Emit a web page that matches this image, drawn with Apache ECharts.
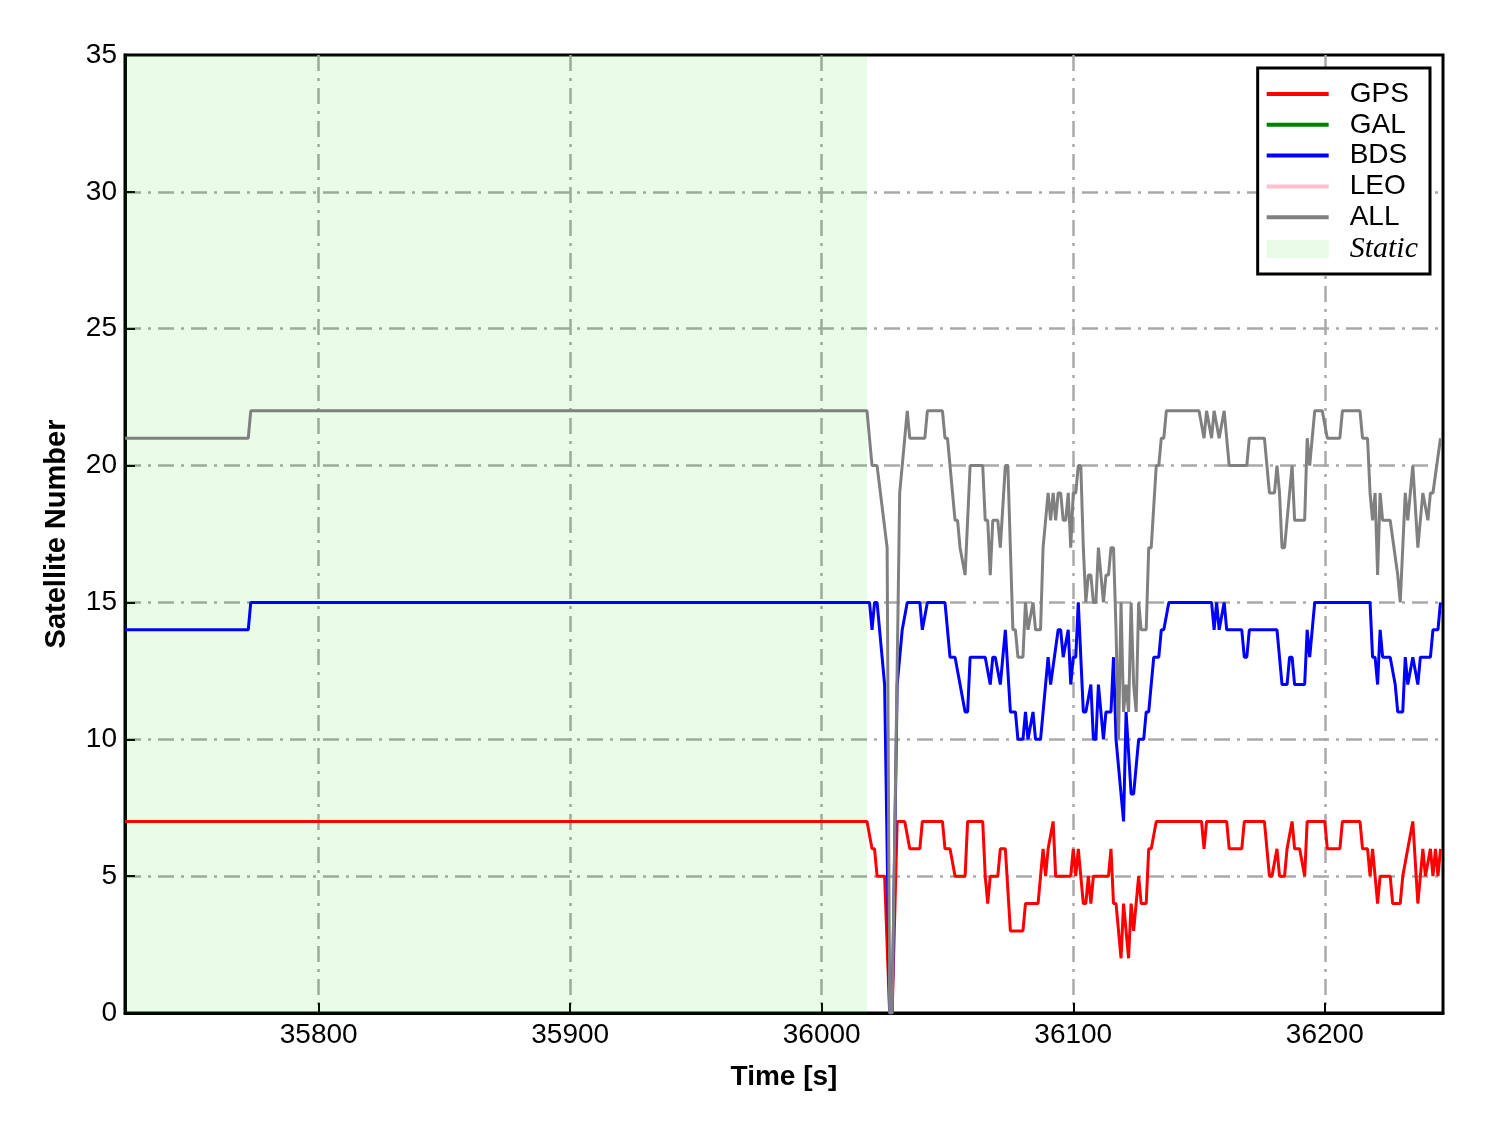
<!DOCTYPE html>
<html>
<head>
<meta charset="utf-8">
<script src="https://cdn.jsdelivr.net/npm/echarts@6/dist/echarts.min.js"></script>
<style>
  html, body { margin: 0; padding: 0; background: #fff; }
  #chart { width: 1488px; height: 1133px; }
</style>
</head>
<body>
<div id="chart"></div>
<script>
// time range of the plot [s]
var timeRange = [35723, 36247];
// static period (shaded)
var staticRange = [35723, 36018];
var yTicks = [0, 5, 10, 15, 20, 25, 30, 35];

// [time, satellite count] samples
var gpsData = [
  [35723,7],[36018,7],[36020,6],[36021,6],[36022,5],[36025,5],[36027,0],[36028,0],[36030,7],[36033,7],
  [36035,6],[36039,6],[36040,7],[36048,7],[36049,6],[36051,6],[36053,5],[36057,5],[36058,7],[36064,7],
  [36065,5],[36066,4],[36067,5],[36070,5],[36071,6],[36073,6],[36075,3],[36080,3],[36081,4],[36086,4],
  [36087,5],[36088,6],[36089,5],[36090,6],[36092,7],[36093,5],[36099,5],[36100,6],[36101,5],[36102,6],
  [36104,4],[36105,4],[36106,5],[36107,4],[36108,5],[36114,5],[36115,6],[36116,4],[36117,4],[36119,2],
  [36120,4],[36122,2],[36123,4],[36124,3],[36126,5],[36127,4],[36129,4],[36130,6],[36131,6],[36133,7],
  [36151,7],[36152,6],[36153,7],[36161,7],[36162,6],[36167,6],[36168,7],[36176,7],[36177,6],[36178,5],
  [36179,5],[36181,6],[36182,5],[36184,5],[36185,6],[36187,7],[36188,6],[36190,6],[36192,5],[36193,7],
  [36200,7],[36201,6],[36206,6],[36207,7],[36214,7],[36215,6],[36217,6],[36218,5],[36219,6],[36221,4],
  [36222,5],[36226,5],[36227,4],[36230,4],[36231,5],[36233,6],[36235,7],[36237,4],[36239,6],[36240,5],
  [36242,6],[36243,5],[36244,6],[36245,5],[36246,6]
];
var galData = [];
var bdsData = [
  [35723,14],[35772,14],[35773,15],[36019,15],[36020,14],[36021,15],[36022,15],[36024,13],[36025,12],[36027,0],
  [36028,0],[36030,12],[36032,14],[36034,15],[36039,15],[36040,14],[36042,15],[36049,15],[36051,13],[36053,13],
  [36055,12],[36057,11],[36058,11],[36059,13],[36065,13],[36067,12],[36068,13],[36069,13],[36071,12],[36072,13],
  [36073,14],[36075,11],[36077,11],[36078,10],[36080,10],[36081,11],[36082,10],[36084,11],[36085,10],[36087,10],
  [36090,13],[36091,12],[36094,14],[36095,14],[36096,13],[36098,14],[36099,12],[36100,13],[36101,13],[36102,15],
  [36104,11],[36105,11],[36107,12],[36108,10],[36109,10],[36110,12],[36112,10],[36113,11],[36115,11],[36116,13],
  [36117,10],[36120,7],[36121,11],[36123,8],[36124,8],[36126,10],[36128,10],[36129,11],[36130,11],[36132,13],
  [36134,13],[36135,14],[36136,14],[36138,15],[36155,15],[36156,14],[36157,15],[36158,14],[36160,15],[36161,14],
  [36167,14],[36168,13],[36169,13],[36170,14],[36181,14],[36183,12],[36185,12],[36186,13],[36187,13],[36188,12],
  [36192,12],[36193,14],[36194,13],[36196,15],[36218,15],[36219,13],[36220,13],[36221,12],[36222,14],[36223,13],
  [36226,13],[36228,12],[36229,11],[36231,11],[36232,13],[36233,12],[36235,13],[36237,12],[36238,13],[36242,13],
  [36243,14],[36245,14],[36246,15]
];
var leoData = [];
var allData = [
  [35723,21],[35772,21],[35773,22],[36018,22],[36020,20],[36022,20],[36026,17],[36027,0],[36028,0],[36031,19],
  [36034,22],[36035,21],[36041,21],[36042,22],[36048,22],[36049,21],[36050,21],[36053,18],[36054,18],[36055,17],
  [36057,16],[36059,20],[36064,20],[36065,18],[36066,18],[36067,16],[36068,18],[36070,18],[36071,17],[36073,20],
  [36074,20],[36076,14],[36077,14],[36078,13],[36080,13],[36081,15],[36082,14],[36084,15],[36085,14],[36087,14],
  [36088,17],[36089,18],[36090,19],[36091,18],[36092,19],[36093,18],[36094,19],[36095,19],[36096,18],[36097,18],
  [36098,19],[36099,17],[36100,19],[36101,19],[36102,20],[36103,20],[36104,17],[36105,15],[36106,16],[36107,16],
  [36108,15],[36109,15],[36110,17],[36112,15],[36113,16],[36114,16],[36115,17],[36116,17],[36117,14],[36118,10],
  [36119,15],[36120,11],[36121,12],[36122,11],[36123,15],[36124,12],[36125,11],[36126,15],[36127,14],[36129,14],
  [36130,17],[36131,17],[36133,20],[36134,20],[36135,21],[36136,21],[36137,22],[36150,22],[36152,21],[36153,22],
  [36155,21],[36156,22],[36158,21],[36160,22],[36162,20],[36169,20],[36170,21],[36176,21],[36177,20],[36178,19],
  [36180,19],[36181,20],[36182,19],[36183,17],[36184,17],[36187,20],[36188,18],[36192,18],[36193,21],[36194,20],
  [36196,22],[36199,22],[36201,21],[36206,21],[36207,22],[36214,22],[36215,21],[36217,21],[36218,19],[36219,18],
  [36220,19],[36221,16],[36222,19],[36223,18],[36226,18],[36229,16],[36230,15],[36232,19],[36233,18],[36235,20],
  [36237,17],[36239,19],[36241,18],[36242,19],[36243,19],[36246,21]
];

var FONT = '"Liberation Sans", Arial, sans-serif';
// dash-dot grid
var gridLine = {
  show: true, showMinLine: false, showMaxLine: false,
  lineStyle: { color: '#a9a9a9', width: 2.5, type: [16, 7, 3, 7] }
};
// thin bar used as legend line sample
var lineIcon = 'path://M0 0H62V4H0Z';

var chart = echarts.init(document.getElementById('chart'));
chart.setOption({
  backgroundColor: '#fff',
  animation: false,
  grid: {
    left: 125, top: 55, right: 45, bottom: 120,
    show: true, borderColor: '#000', borderWidth: 3, backgroundColor: 'transparent'
  },
  xAxis: {
    type: 'value',
    min: timeRange[0],
    max: timeRange[1],
    name: 'Time [s]',
    nameLocation: 'middle',
    nameGap: 50,
    nameTextStyle: { fontFamily: FONT, fontSize: 28, fontWeight: 'bold', color: '#000' },
    axisLine: { show: true, lineStyle: { color: '#000', width: 3 } },
    axisTick: { show: true, inside: true, length: 10, lineStyle: { color: '#000', width: 2 } },
    axisLabel: {
      fontFamily: FONT, fontSize: 28, color: '#000', margin: 8,
      showMinLabel: false, showMaxLabel: false,
      formatter: function (v) { return String(v); }
    },
    splitLine: gridLine
  },
  yAxis: {
    type: 'value',
    min: yTicks[0],
    max: yTicks[yTicks.length - 1],
    interval: 5,
    name: 'Satellite Number',
    nameLocation: 'middle',
    nameGap: 54,
    nameTextStyle: { fontFamily: FONT, fontSize: 29, fontWeight: 'bold', color: '#000' },
    axisLine: { show: true, lineStyle: { color: '#000', width: 3 } },
    axisTick: { show: true, inside: true, length: 10, lineStyle: { color: '#000', width: 2 } },
    axisLabel: { fontFamily: FONT, fontSize: 28, color: '#000', margin: 8 },
    splitLine: gridLine
  },
  legend: {
    orient: 'vertical',
    right: 58,
    top: 68,
    backgroundColor: '#fff',
    borderColor: '#000',
    borderWidth: 3,
    borderRadius: 0,
    padding: [12, 12, 10, 9],
    itemWidth: 62,
    itemHeight: 18,
    itemGap: 2.8,
    textStyle: { fontFamily: FONT, fontSize: 28, color: '#000', padding: [0, 0, 0, 16] },
    data: [
      { name: 'GPS', icon: lineIcon },
      { name: 'GAL', icon: lineIcon },
      { name: 'BDS', icon: lineIcon },
      { name: 'LEO', icon: lineIcon },
      { name: 'ALL', icon: lineIcon },
      {
        name: 'Static', icon: 'rect', itemStyle: { color: '#e8fce8' },
        textStyle: { fontFamily: '"Liberation Serif", "Times New Roman", serif', fontStyle: 'italic', fontSize: 30 }
      }
    ]
  },
  series: [
    {
      name: 'Static', type: 'line', data: [], symbol: 'none',
      itemStyle: { color: '#e8fce8' },
      markArea: {
        silent: true,
        itemStyle: { color: 'rgba(0,222,0,0.09)' },
        data: [[{ xAxis: staticRange[0] }, { xAxis: staticRange[1] }]]
      }
    },
    { name: 'GPS', type: 'line', data: gpsData, symbol: 'none', color: '#ff0000', lineStyle: { width: 3 } },
    { name: 'GAL', type: 'line', data: galData, symbol: 'none', color: '#008000', lineStyle: { width: 3 } },
    { name: 'BDS', type: 'line', data: bdsData, symbol: 'none', color: '#0000ff', lineStyle: { width: 3 } },
    { name: 'LEO', type: 'line', data: leoData, symbol: 'none', color: '#ffc0cb', lineStyle: { width: 3 } },
    { name: 'ALL', type: 'line', data: allData, symbol: 'none', color: '#808080', lineStyle: { width: 3 } }
  ]
});
</script>
</body>
</html>
